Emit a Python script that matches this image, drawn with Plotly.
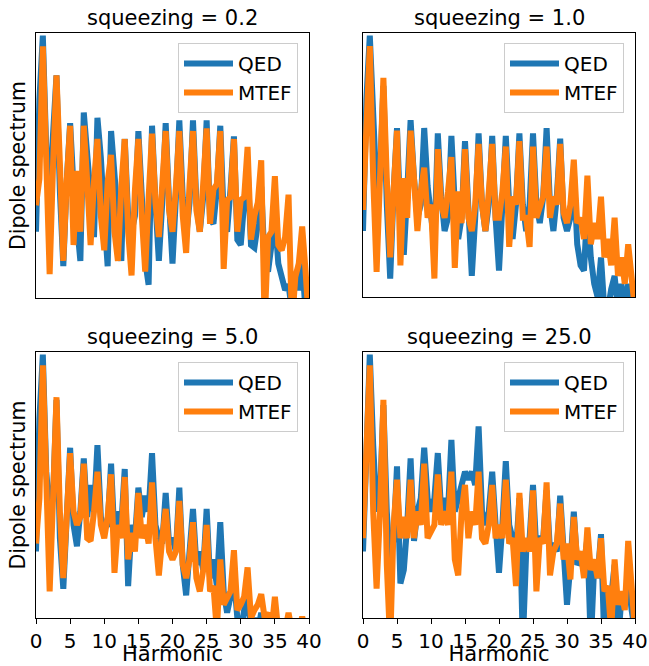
import plotly.graph_objects as go

# Harmonic order grid (x values shared by every series)
harmonic = [i * 0.5 for i in range(81)]

panel_titles = ["squeezing = 0.2", "squeezing = 1.0", "squeezing = 5.0", "squeezing = 25.0"]
series_names = ["QED", "MTEF"]
x_ticks = [0, 5, 10, 15, 20, 25, 30, 35, 40]

# Dipole spectrum (log scale, arbitrary units: 0 = bottom of axis, 100 = top)
qed_02 = [25, 75, 99, 56, 40, 60, 84, 40, 12, 44,
          66, 42, 30, 14, 70, 53, 36, 23, 68, 53,
          31, 12, 63, 47, 31, 14, 60, 31, 25, 31,
          63, 38, 14, 5, 65, 36, 14, 36, 66, 36,
          13, 38, 67, 38, 23, 36, 67, 36, 25, 38,
          67, 30, 28, 41, 65, 31, 25, 41, 61, 22,
          20, 36, 50, 20, 19, 28, 42, 13, 10, 20,
          31, 13, 8, 3, 5, -5, 8, 3, 13, -5,
          -5]
mtef_02 = [35, 45, 95, 44, 9, 50, 84, 51, 14, 44,
           65, 20, 48, 25, 65, 44, 20, 44, 60, 31,
           18, 44, 54, 25, 14, 42, 60, 25, 8.5, 41,
           60, 31, 10, 38, 62, 36, 23, 43, 63, 33,
           25, 42, 63, 31, 17, 43, 63, 33, 25, 43,
           64, 28, 41, 43, 63, 11, 37, 38, 60, 25,
           37, 38, 57, 22, 31, 36, 52, -10, 23, 25,
           46, 20, 18, 23, 39, -10, 8, 13, 27, 10,
           -10]
qed_10 = [25, 75, 99, 70, 40, 45, 80, 35, 7, 40,
          64, 30, 16, 40, 67, 45, 30, 35, 64, 42,
          28, 20, 62, 38, 25, 30, 61, 35, 22, 30,
          59, 35, 8, 30, 62, 35, 25, 35, 61, 30,
          10, 35, 61, 35, 22, 35, 62, 35, 25, 35,
          62, 35, 28, 38, 64, 35, 25, 38, 60, 30,
          25, 30, 48, 20, 12, 10, 35, 15, 5, 0,
          15, -5, -5, 3, 8, -5, 5, -5, 5, -5,
          -5]
mtef_10 = [33, 62, 95, 45, 9.5, 45, 83, 45, 15, 40,
           63, 12, 45, 30, 63, 45, 25, 40, 49, 30,
           35, 7, 56, 35, 30, 40, 53, 11, 40, 28,
           56, 30, 25, 35, 58, 35, 25, 40, 58, 30,
           30, 40, 57, 19, 38, 35, 59, 30, 30, 19,
           57, 30, 35, 38, 57, 30, 38, 35, 58, 32,
           28, 35, 52, 28, 30, 22, 46, 20, 28, 22,
           38, 15, 22, 12, 30, 8, 15, 5, 20, 5,
           -5]
qed_50 = [25, 75, 99, 55, 40, 45, 82, 30, 11, 35,
          64, 35, 27, 40, 60, 38, 50, 40, 65, 38,
          34, 35, 58, 30, 40, 35, 56, 12, 35, 30,
          49, 38, 46, 40, 62, 35, 30, 28, 47, 28,
          30, 25, 49, 20, 8.5, 25, 41, 20, 25, 18,
          41, 15, 22, 12, 36, 10, 2, 8, 15, 0,
          -5, 3, 8, -5, 0, -5, 2, -5, -5, -5,
          -5, -5, -5, -5, -5, -5, -5, -5, -5, -5,
          -5]
mtef_50 = [28, 45, 95, 45, 10, 45, 83, 40, 15, 38,
           62, 40, 35, 38, 58, 30, 29, 40, 55, 35,
           30, 38, 54, 17, 35, 30, 53, 22, 32, 25,
           47, 30, 35, 28, 51, 30, 16, 30, 41, 25,
           22, 25, 44, 20, 15, 22, 36, 15, 10, 18,
           35, 10, 12, -5, 22, 5, 8, 10, 25.5, 3,
           5, 8, 19, 0, 3, 5, 9, 0, 2, -5,
           8, -5, -5, -5, 2, -5, -5, -5, 0.5, -5,
           -5]
qed_250 = [25, 70, 99, 65, 40, 45, 80, 40, 20, 30,
           57, 13, 18, 35, 60, 29, 40, 45, 64, 45,
           40, 45, 62, 40, 45, 40, 67, 40, 45, 50,
           55, 52, 55, 50, 72, 40, 35, 40, 55, 35,
           17, 35, 59, 35, 30, 25, 45, -10, 25, 30,
           50, 25, 30, 30, 48, 25, 28, 25, 46, 20,
           5, 20, 40, 20, 22, 20, 30, -10, 20, 15,
           31.5, -10, 10, 8, 20, -10, 8, 5, 15, 3,
           -5]
mtef_250 = [30, 60, 95, 40, 11, 40, 82, 20, -10, 35,
            52, 30, 38, 30, 52, 30, 40, 35, 58, 30,
            32, 35, 54, 35, 40, 35, 55, 22, 16, 40,
            50, 30, 40, 35, 55, 30, 28, 35, 50, 30,
            35, 30, 52, 28, 30, 12, 47, 25, 30, 25,
            48, 10, 30, 28, 51, 16, 25, 28, 43, 22,
            28, 14.5, 38, 22, 25, 15, 34, 18, 22, 15,
            30, 10, 12, -5, 22, 5, 10, 3, 29, 5,
            -5]

panels = [(qed_02, mtef_02), (qed_10, mtef_10), (qed_50, mtef_50), (qed_250, mtef_250)]

BLUE = "#1f77b4"
ORANGE = "#ff7f0e"
W, H = 649, 666

# panel pixel boxes: (left, right, top, bottom)
boxes = [(36, 309, 33, 298), (363, 635, 33, 297), (36, 309, 352, 618), (363, 635, 352, 618)]

fig = go.Figure()
for i, (qed, mtef) in enumerate(panels):
    sfx = "" if i == 0 else str(i + 1)
    leg = "legend" + sfx
    for name, ys, col in ((series_names[0], qed, BLUE), (series_names[1], mtef, ORANGE)):
        fig.add_trace(go.Scatter(
            x=harmonic, y=ys, mode="lines", name=name,
            line=dict(color=col, width=6),
            xaxis="x" + sfx, yaxis="y" + sfx, legend=leg,
        ))

layout = dict(
    width=W, height=H,
    margin=dict(l=0, r=0, t=0, b=0, pad=0),
    paper_bgcolor="white", plot_bgcolor="white",
    font=dict(family="DejaVu Sans", size=20, color="black"),
    annotations=[],
)

for i, (l, r, t, b) in enumerate(boxes):
    sfx = "" if i == 0 else str(i + 1)
    bottom_row = i >= 2
    left_col = i % 2 == 0
    xa = dict(
        domain=[l / W, r / W], range=[0, 40], anchor="y" + sfx, automargin=False,
        showline=True, mirror=True, linecolor="black", linewidth=1,
        showgrid=False, zeroline=False,
        tickvals=x_ticks, showticklabels=bottom_row,
        ticks="outside" if bottom_row else "", ticklen=5, tickcolor="black",
        tickfont=dict(size=20),
    )
    if bottom_row:
        xa["title"] = dict(text="Harmonic", font=dict(size=21), standoff=6)
    ya = dict(
        domain=[1 - b / H, 1 - t / H], range=[0, 100], anchor="x" + sfx, automargin=False,
        showline=True, mirror=True, linecolor="black", linewidth=1,
        showgrid=False, zeroline=False, showticklabels=False, ticks="",
    )
    if left_col:
        ya["title"] = dict(text="Dipole spectrum", font=dict(size=20.5), standoff=3)
    layout["xaxis" + sfx] = xa
    layout["yaxis" + sfx] = ya
    layout["legend" + sfx] = dict(
        x=(r - 11) / W, y=1 - (t + 10) / H, xanchor="right", yanchor="top",
        bgcolor="rgba(255,255,255,0.8)", bordercolor="#cccccc", borderwidth=1,
        font=dict(size=20), traceorder="normal", itemwidth=49,
    )
    layout["annotations"].append(dict(
        text=panel_titles[i], x=(l + r) / 2 / W, y=1 - (t - 15) / H,
        xref="paper", yref="paper", xanchor="center", yanchor="middle",
        showarrow=False, font=dict(size=21),
    ))

fig.update_layout(**layout)
fig.write_html("out.html", config={"displayModeBar": False},
               post_script="document.body.style.margin='0';document.body.style.overflow='hidden';")
